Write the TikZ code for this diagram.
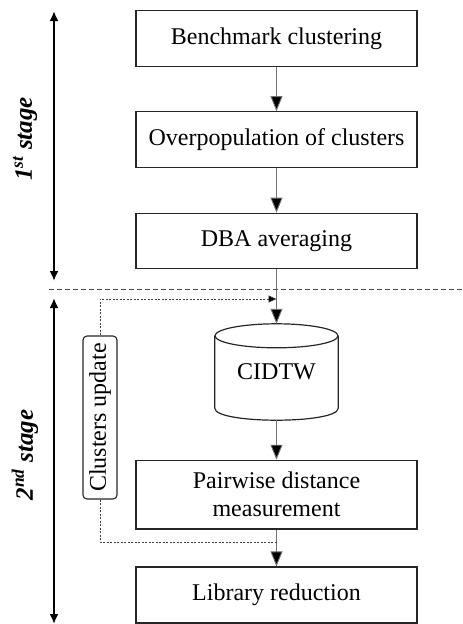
\documentclass[tikz,border=0pt]{standalone}
\usepackage{fontspec}
\setmainfont{Liberation Serif}
\usetikzlibrary{arrows.meta,calc}
\begin{document}
\begin{tikzpicture}[x=1pt,y=-1pt,
  every node/.style={font=\fontsize{24}{28}\selectfont},
  stepbox/.style={draw=black!85,line width=1.2pt,minimum width=281pt,inner sep=0pt,align=center},
  flow/.style={draw=black!55,line width=0.9pt,-{Triangle[length=15pt,width=12pt,fill=black]}},
  fback/.style={draw=black!75,line width=0.7pt,dash pattern=on 2pt off 1.5pt},
  stagearrow/.style={line width=2.6pt,{Latex[length=10pt,width=9pt]}-{Latex[length=10pt,width=9pt]}},
  sep/.style={draw=black!70,line width=0.8pt,dash pattern=on 5pt off 3pt},
  stagelabel/.style={rotate=90,font=\fontsize{25}{28}\selectfont\bfseries\itshape}]
\useasboundingbox (0,0) rectangle (463,624);

\node[stepbox,minimum height=55.5pt] (b1) at (276.5,38.5) {Benchmark clustering};
\node[stepbox,minimum height=55.5pt] (b2) at (276.5,139.5) {Overpopulation of clusters};
\node[stepbox,minimum height=55.5pt] (b3) at (276.5,241) {DBA averaging};
\node[minimum width=123pt,minimum height=96pt,inner sep=0pt] (cyl) at (276.5,372) {CIDTW};
\node[stepbox,minimum height=68.7pt] (b4) at (276.5,494.7) {Pairwise distance\\measurement};
\node[stepbox,minimum height=56pt] (b5) at (276.5,595) {Library reduction};

% cylinder outline
\draw[black!85,line width=1.2pt]
  ($(cyl.north west)+(0,12)$) -- ($(cyl.south west)+(0,-12)$)
  .. controls ($(cyl.south west)+(0,4)$) and ($(cyl.south east)+(0,4)$) .. ($(cyl.south east)+(0,-12)$)
  -- ($(cyl.north east)+(0,12)$);
\draw[black!85,line width=1.2pt] ($(cyl.north)+(0,12)$) ellipse[x radius=61.5pt,y radius=12pt];

\node[draw=black!85,line width=1.1pt,rounded corners=4pt,rotate=90,minimum width=163pt,minimum height=34pt,inner sep=0pt] (cu) at (100,417.5) {Clusters update};

\draw[flow] (b1) -- (b2);
\draw[flow] (b2) -- (b3);
\draw[flow] (b3) -- (cyl.north);
\draw[flow] (cyl.south) -- (b4);
\draw[flow] (b4) -- (b5);

% feedback
\coordinate (fb) at (276.5,542);
\coordinate (fbtop) at (276.5,299);
\draw[fback] (fb) -| (cu.west);
\draw[fback,-{Triangle[length=8pt,width=7pt,fill=black]}] (cu.east) |- (fbtop);

% separator
\coordinate (sepl) at (49,289);
\coordinate (sepr) at (463,289);
\draw[sep] (sepl) -- (sepr);

% stage arrows
\coordinate (s1t) at (54,11);
\coordinate (s1b) at (54,281);
\coordinate (s2t) at (54,298);
\coordinate (s2b) at (54,624);
\draw[stagearrow] (s1t) -- (s1b);
\draw[stagearrow] (s2t) -- (s2b);

\node[stagelabel] (l1) at (25,139) {1\textsuperscript{st} stage};
\node[stagelabel] (l2) at (25,455) {2\textsuperscript{nd} stage};
\end{tikzpicture}
\end{document}
